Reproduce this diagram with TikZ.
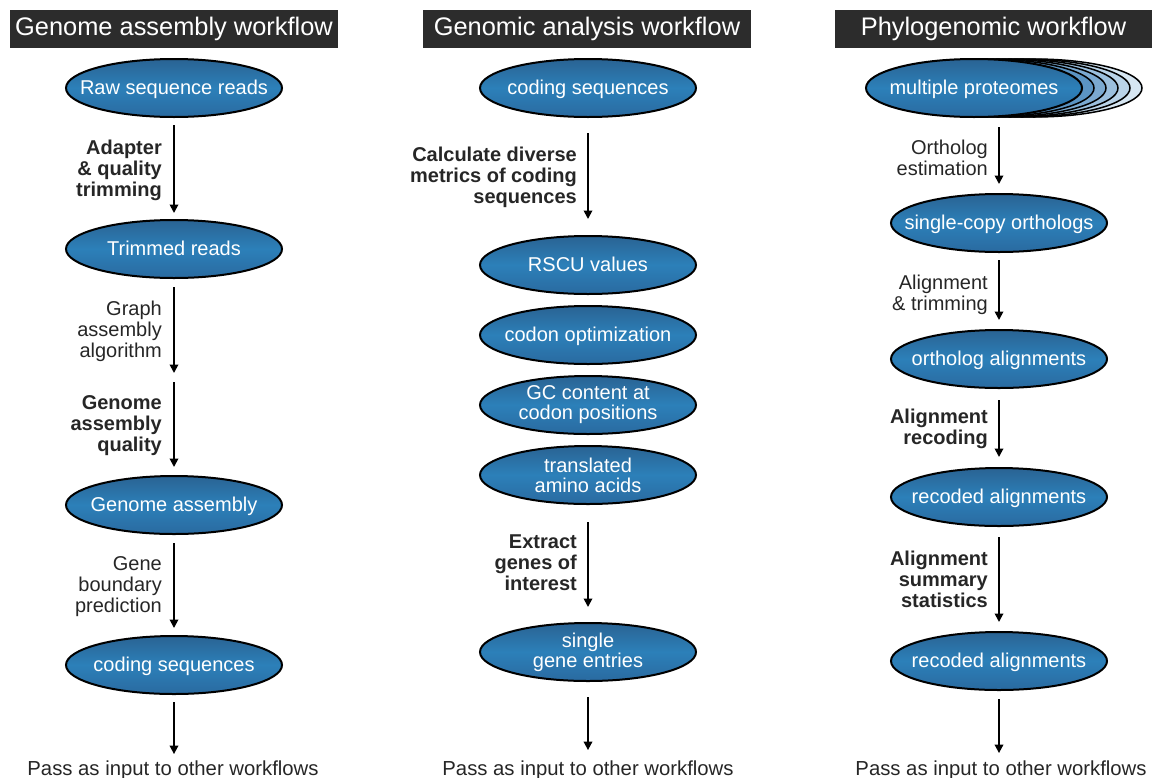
\documentclass[tikz,border=0pt]{standalone}
\usepackage{fontspec}
\setmainfont{Liberation Sans}
\usetikzlibrary{shapes.geometric,arrows.meta}
\definecolor{ellTop}{HTML}{2A6393}
\definecolor{ellMid}{HTML}{2C80B9}
\definecolor{ellBot}{HTML}{2A6AA0}
\definecolor{titleGray}{HTML}{2C2C2C}
\definecolor{labCol}{HTML}{262626}
\definecolor{stA}{HTML}{5B94C3}
\definecolor{stB}{HTML}{7BA9D0}
\definecolor{stC}{HTML}{9BBFDD}
\definecolor{stD}{HTML}{B9D3E8}
\definecolor{stE}{HTML}{D6E6F2}
\begin{document}
\begin{tikzpicture}[x=1pt,y=-1pt,
  ell/.style={ellipse, draw=black, line width=2pt, minimum width=216pt, minimum height=58pt,
    inner xsep=-40pt, inner ysep=0pt,
    top color=ellTop, bottom color=ellBot, middle color=ellMid, text=white,
    font=\fontsize{20}{20}\selectfont, align=center},
  one/.style={text height=16pt, text depth=4pt},
  stk/.style={ellipse, draw=black, line width=1.5pt, minimum width=216pt, minimum height=58pt, inner sep=0pt},
  titlebox/.style={fill=titleGray, text=white, font=\fontsize{25.4}{25.4}\selectfont, minimum height=38pt, inner sep=0pt},
  lab/.style={anchor=base east, align=right, text=labCol, font=\fontsize{20}{21}\selectfont, inner sep=0pt},
  blab/.style={lab, font=\bfseries\fontsize{20}{21}\selectfont},
  arr/.style={line width=1.8pt, draw=black, -{Triangle[width=8.5pt,length=8.5pt]}},
  passtxt/.style={anchor=base, font=\fontsize{20.3}{20.3}\selectfont, text=labCol, inner sep=0pt}
]
\useasboundingbox (0,0) rectangle (1153,777);

% ---------- titles ----------
\node[titlebox, minimum width=328pt] (t1) at (174,29) {Genome assembly workflow};
\node[titlebox, minimum width=328pt] (t2) at (587,29) {Genomic analysis workflow};
\node[titlebox, minimum width=317pt] (t3) at (993.5,29) {Phylogenomic workflow};

% ---------- column 1 ----------
\node[ell, one] (a1) at (174,88) {Raw sequence reads};
\node[ell, one] (a2) at (174,249) {Trimmed reads};
\node[ell, one] (a3) at (174,505) {Genome assembly};
\node[ell, one] (a4) at (174,665) {coding sequences};
\coordinate (am) at (174,377.5);
\node[passtxt] (p1) at (173,775) {Pass as input to other workflows};

\draw[arr, shorten <=7pt, shorten >=6pt] (a1) -- (a2);
\draw[arr, shorten <=8pt, shorten >=4.5pt] (a2) -- (am);
\draw[arr, shorten <=4.5pt, shorten >=8pt] (am) -- (a3);
\draw[arr, shorten <=8pt, shorten >=7pt] (a3) -- (a4);
\draw[arr, shorten <=7pt, shorten >=6pt] (a4) -- (p1.north -| a4);

\node[blab] (la1) at (162,196) {Adapter\\\& quality\\trimming};
\node[lab] (la2) at (162,357) {Graph\\assembly\\algorithm};
\node[blab] (la3) at (162,451) {Genome\\assembly\\quality};
\node[lab] (la4) at (162,612) {Gene\\boundary\\prediction};

% ---------- column 2 ----------
\node[ell, one] (b1) at (588,88) {coding sequences};
\node[ell, one] (b2) at (588,265) {RSCU values};
\node[ell, one] (b3) at (588,335) {codon optimization};
\node[ell] (b4) at (588,405) {GC content at\\codon positions};
\node[ell] (b5) at (588,475) {translated\\amino acids};
\node[ell] (b6) at (588,652) {single\\gene entries};
\node[passtxt] (p2) at (588,775) {Pass as input to other workflows};

\draw[arr, shorten <=15pt, shorten >=16pt] (b1) -- (b2);
\draw[arr, shorten <=17pt, shorten >=15pt] (b5) -- (b6);
\draw[arr, shorten <=15pt, shorten >=10pt] (b6) -- (p2.north -| b6);

\node[blab] (lb1) at (577,203) {Calculate diverse\\metrics of coding\\sequences};
\node[blab] (lb2) at (577,590) {Extract\\genes of\\interest};

% ---------- column 3 ----------
\node[stk, fill=stE] (c0e) at (1034,88) {};
\node[stk, fill=stD] (c0d) at (1022,88) {};
\node[stk, fill=stC] (c0c) at (1010,88) {};
\node[stk, fill=stB] (c0b) at (998,88) {};
\node[stk, fill=stA] (c0a) at (986,88) {};
\node[ell, one] (c0) at (974,88) {multiple proteomes};
\node[ell, one] (c1) at (999,223) {single-copy orthologs};
\node[ell, one] (c2) at (999,359) {ortholog alignments};
\node[ell, one] (c3) at (999,497) {recoded alignments};
\node[ell, one] (c4) at (999,661) {recoded alignments};
\node[passtxt] (p3) at (1001,775) {Pass as input to other workflows};

\draw[arr, shorten <=9pt, shorten >=9pt] (c0.south -| c1) -- (c1);
\draw[arr, shorten <=7pt, shorten >=9pt] (c1) -- (c2);
\draw[arr, shorten <=11pt, shorten >=10pt] (c2) -- (c3);
\draw[arr, shorten <=10pt, shorten >=9pt] (c3) -- (c4);
\draw[arr, shorten <=8pt, shorten >=7pt] (c4) -- (p3.north -| c4);

\node[lab] (lc1) at (988,175) {Ortholog\\estimation};
\node[lab] (lc2) at (988,310) {Alignment\\\& trimming};
\node[blab] (lc3) at (988,444) {Alignment\\recoding};
\node[blab] (lc4) at (988,607) {Alignment\\summary\\statistics};
\end{tikzpicture}
\end{document}
